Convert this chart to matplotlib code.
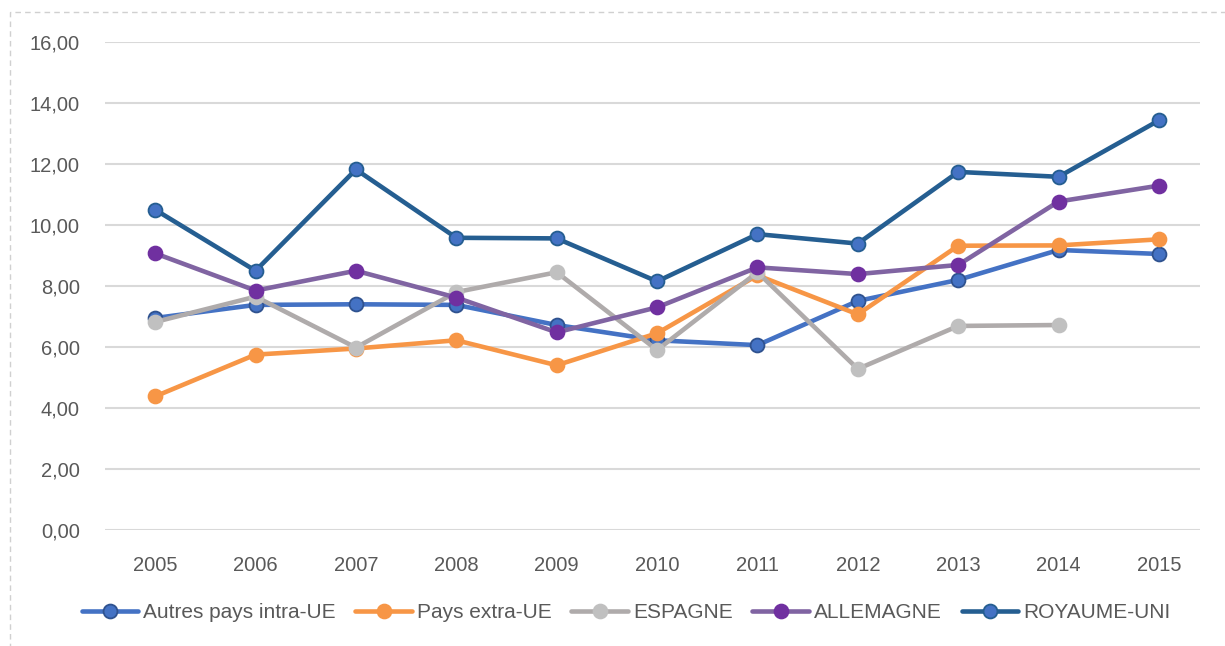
import numpy as np
import matplotlib
matplotlib.use('Agg')
import matplotlib.pyplot as plt
from matplotlib.patches import Rectangle

years = [2005, 2006, 2007, 2008, 2009, 2010, 2011, 2012, 2013, 2014, 2015]

autres_ue = [6.95, 7.38, 7.40, 7.38, 6.72, 6.22, 6.06, 7.51, 8.20, 9.18, 9.05]
extra_ue = [4.38, 5.75, 5.95, 6.22, 5.40, 6.45, 8.35, 7.07, 9.32, 9.33, 9.53]
espagne = [6.82, 7.65, 5.98, 7.80, 8.45, 5.90, 8.45, 5.28, 6.69, 6.72, np.nan]
allemagne = [9.07, 7.85, 8.50, 7.62, 6.48, 7.30, 8.61, 8.39, 8.69, 10.77, 11.29]
royaume_uni = [10.50, 8.50, 11.82, 9.58, 9.56, 8.15, 9.70, 9.39, 11.74, 11.58, 13.43]

labels = ['Autres pays intra-UE', 'Pays extra-UE', 'ESPAGNE', 'ALLEMAGNE', 'ROYAUME-UNI']
yticks = [0, 2, 4, 6, 8, 10, 12, 14, 16]

plt.rcParams['font.family'] = ['Liberation Sans', 'DejaVu Sans']

fig = plt.figure(figsize=(12.25, 6.46), dpi=100)
ax = fig.add_axes([0.0857, 0.1796, 0.894, 0.7554])

# (data, line color, marker face, marker edge)
styles = [
    (autres_ue, '#4472C4', '#4472C4', '#2F528F'),
    (extra_ue, '#F79646', '#F79646', '#F79646'),
    (espagne, '#AFABAB', '#C0C0C0', '#C0C0C0'),
    (allemagne, '#8064A2', '#7030A0', '#7030A0'),
    (royaume_uni, '#255E91', '#4472C4', '#255E91'),
]

for (vals, lc, mf, me), lab in zip(styles, labels):
    ax.plot(years, vals, color=lc, lw=3.3, marker='o', ms=10,
            markerfacecolor=mf, markeredgecolor=me, markeredgewidth=1.3,
            label=lab, solid_capstyle='round')

ax.set_ylim(0, 16)
ax.set_xlim(2004.5, 2015.41)
ax.set_yticks(yticks)
ax.set_yticklabels([('%.2f' % v).replace('.', ',') for v in yticks])
ax.set_xticks(years)
ax.grid(axis='y', color='#D9D9D9', lw=1.5)
ax.set_axisbelow(True)
for s in ax.spines.values():
    s.set_visible(False)
ax.tick_params(length=0, labelsize=14.5, colors='#595959', pad=18)
ax.tick_params(axis='x', pad=19)

leg = fig.legend(loc='center', bbox_to_anchor=(0.511, 0.052), ncol=5, frameon=False,
                 fontsize=15, handlelength=2.7, columnspacing=0.95, handletextpad=0.25)
for t in leg.get_texts():
    t.set_color('#595959')

# dashed chart border
fig.patches.append(Rectangle((10 / 1225, -0.05), 1.2, 1 - 12 / 646 + 0.05,
                             transform=fig.transFigure, fill=False,
                             edgecolor='#D0D0D0', ls=(0, (4, 3)), lw=1.0))

fig.savefig('out.png', dpi=100)
